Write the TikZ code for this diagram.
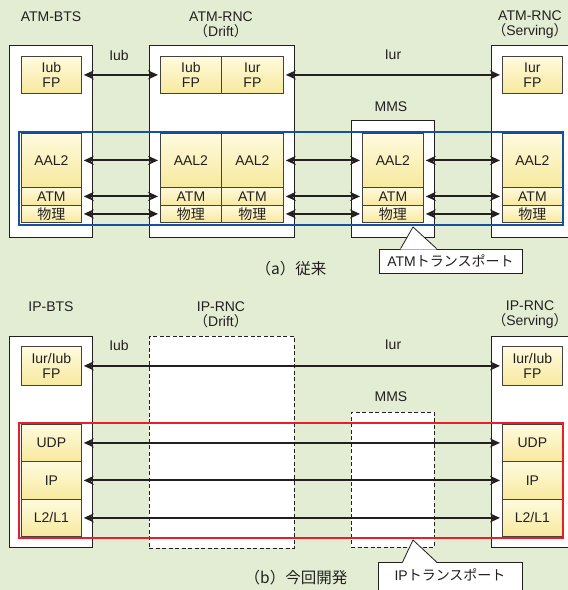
\documentclass[tikz,border=0pt]{standalone}
\usepackage{fontspec}
\setmainfont{Liberation Sans}
\newfontfamily\jp{Noto Sans CJK JP}
\usetikzlibrary{arrows.meta}
\definecolor{bgreen}{RGB}{227,237,212}
\definecolor{pyelA}{RGB}{255,251,222}
\definecolor{pyelB}{RGB}{247,233,158}
\definecolor{tblue}{RGB}{20,82,160}
\definecolor{tred}{RGB}{232,30,40}
\definecolor{ink}{RGB}{35,31,32}
\begin{document}
\begin{tikzpicture}[x=1pt,y=-1pt,
  font=\fontsize{14}{15}\selectfont, text=ink,
  container/.style={draw=ink, line width=0.8pt, fill=white, anchor=north west, inner sep=0pt},
  dcontainer/.style={container, dash pattern=on 4pt off 2.5pt},
  proto/.style={draw=ink!85, line width=0.8pt, anchor=north west, inner sep=0pt,
    top color=pyelA, bottom color=pyelB, align=center},
  link/.style={line width=2.1pt, draw=ink, {Stealth[length=10pt,width=9pt]}-{Stealth[length=10pt,width=9pt]},
    shorten <=2pt, shorten >=2pt},
  frameblue/.style={draw=tblue, line width=2.6pt},
  framered/.style={draw=tred, line width=2.6pt},
  title/.style={align=center, inner sep=0pt},
  caption/.style={inner sep=0pt, font=\fontsize{15.5}{16}\selectfont\jp},
  callbox/.style={draw=ink, line width=0.8pt, fill=white, inner sep=0pt},
  callline/.style={draw=ink, line width=0.8pt}]
\clip (0,0) rectangle (568,590);
\fill[bgreen] (0,0) rectangle (568,590);

%% ===== (a) =====
\node[title] (ta1) at (51,17) {ATM-BTS};
\node[title] (ta2) at (221,24.5) {ATM-RNC\\{\jp （}Drift{\jp ）}};
\node[title] (ta3) at (530,24.5) {ATM-RNC\\{\jp （}Serving{\jp ）}};
\node[title] (la1) at (119,55) {Iub};
\node[title] (la2) at (393,55) {Iur};
\node[title] (la3) at (391,107) {MMS};

\node[container, minimum width=83pt, minimum height=192pt] (abts) at (9,45) {};
\node[container, minimum width=145pt, minimum height=192pt] (arncd) at (149,45) {};
\node[container, minimum width=83pt, minimum height=117pt] (amms) at (351,120) {};
\node[container, minimum width=90pt, minimum height=192pt] (arncs) at (491,45) {};

% BTS
\node[proto, minimum width=60pt, minimum height=37pt] (abtsfp) at (21,56) {Iub\\FP};
\node[proto, minimum width=60pt, minimum height=54pt] (abtsaal) at (21,133) {AAL2};
\node[proto, minimum width=60pt, minimum height=18pt] (abtsatm) at (21,187) {ATM};
\node[proto, minimum width=60pt, minimum height=17pt] (abtsphy) at (21,205) {\jp 物理};
% RNC drift
\node[proto, minimum width=61pt, minimum height=37pt] (arncdfpa) at (160,56) {Iub\\FP};
\node[proto, minimum width=62pt, minimum height=37pt] (arncdfpb) at (221,56) {Iur\\FP};
\node[proto, minimum width=61pt, minimum height=54pt] (arncdaala) at (160,133) {AAL2};
\node[proto, minimum width=62pt, minimum height=54pt] (arncdaalb) at (221,133) {AAL2};
\node[proto, minimum width=61pt, minimum height=18pt] (arncdatma) at (160,187) {ATM};
\node[proto, minimum width=62pt, minimum height=18pt] (arncdatmb) at (221,187) {ATM};
\node[proto, minimum width=61pt, minimum height=17pt] (arncdphya) at (160,205) {\jp 物理};
\node[proto, minimum width=62pt, minimum height=17pt] (arncdphyb) at (221,205) {\jp 物理};
% MMS
\node[proto, minimum width=61pt, minimum height=54pt] (ammsaal) at (362,133) {AAL2};
\node[proto, minimum width=61pt, minimum height=18pt] (ammsatm) at (362,187) {ATM};
\node[proto, minimum width=61pt, minimum height=17pt] (ammsphy) at (362,205) {\jp 物理};
% RNC serving
\node[proto, minimum width=60pt, minimum height=37pt] (arncsfp) at (502,56) {Iur\\FP};
\node[proto, minimum width=60pt, minimum height=54pt] (arncsaal) at (502,133) {AAL2};
\node[proto, minimum width=60pt, minimum height=18pt] (arncsatm) at (502,187) {ATM};
\node[proto, minimum width=60pt, minimum height=17pt] (arncsphy) at (502,205) {\jp 物理};

\draw[link] (abtsfp) -- (arncdfpa);
\draw[link] (arncdfpb) -- (arncsfp);
\draw[link] (abtsaal) -- (arncdaala);
\draw[link] (abtsatm) -- (arncdatma);
\draw[link] (abtsphy) -- (arncdphya);
\draw[link] (arncdaalb) -- (ammsaal);
\draw[link] (arncdatmb) -- (ammsatm);
\draw[link] (arncdphyb) -- (ammsphy);
\draw[link] (ammsaal) -- (arncsaal);
\draw[link] (ammsatm) -- (arncsatm);
\draw[link] (ammsphy) -- (arncsphy);

\draw[frameblue] (19,132) rectangle (563,225);

\coordinate (atip) at (413,227);
\node[callbox, minimum width=143pt, minimum height=24pt] (acall) at (450.5,261) {ATM{\jp トランスポート}};
\fill[white] ([xshift=22pt,yshift=-1pt]acall.north west) -- (atip) -- ([xshift=58pt,yshift=-1pt]acall.north west) -- cycle;
\draw[callline] ([xshift=22pt]acall.north west) -- (atip) -- ([xshift=58pt]acall.north west);

\node[caption] (capa) at (291,269) {（a）従来};

%% ===== (b) =====
\node[title] (tb1) at (51,307) {IP-BTS};
\node[title] (tb2) at (221,314.5) {IP-RNC\\{\jp （}Drift{\jp ）}};
\node[title] (tb3) at (530,314.5) {IP-RNC\\{\jp （}Serving{\jp ）}};
\node[title] (lb1) at (119,345) {Iub};
\node[title] (lb2) at (393,345) {Iur};
\node[title] (lb3) at (391,397) {MMS};

\node[container, minimum width=83pt, minimum height=211pt] (bbts) at (9,336) {};
\node[dcontainer, minimum width=145pt, minimum height=212pt] (brncd) at (149,336) {};
\node[dcontainer, minimum width=83pt, minimum height=135pt] (bmms) at (351,412) {};
\node[container, minimum width=90pt, minimum height=211pt] (brncs) at (491,336) {};

\node[proto, minimum width=60pt, minimum height=39pt] (bbtsfp) at (21,346) {Iur/Iub\\FP};
\node[proto, minimum width=60pt, minimum height=37pt] (bbtsudp) at (21,424) {UDP};
\node[proto, minimum width=60pt, minimum height=38pt] (bbtsip) at (21,461) {IP};
\node[proto, minimum width=60pt, minimum height=37pt] (bbtsl) at (21,499) {L2/L1};
\node[proto, minimum width=60pt, minimum height=39pt] (brncsfp) at (502,346) {Iur/Iub\\FP};
\node[proto, minimum width=60pt, minimum height=37pt] (brncsudp) at (502,424) {UDP};
\node[proto, minimum width=60pt, minimum height=38pt] (brncsip) at (502,461) {IP};
\node[proto, minimum width=60pt, minimum height=37pt] (brncsl) at (502,499) {L2/L1};

\draw[link] (bbtsfp) -- (brncsfp);
\draw[link] (bbtsudp) -- (brncsudp);
\draw[link] (bbtsip) -- (brncsip);
\draw[link] (bbtsl) -- (brncsl);

\draw[framered] (19,423) rectangle (563,538);

\coordinate (btip) at (413,540);
\node[callbox, anchor=north, minimum width=144pt, text height=10pt, text depth=16pt, inner ysep=8pt] (bcall) at (450,562) {IP{\jp トランスポート}};
\fill[white] ([xshift=25pt,yshift=-1pt]bcall.north west) -- (btip) -- ([xshift=59pt,yshift=-1pt]bcall.north west) -- cycle;
\draw[callline] ([xshift=25pt]bcall.north west) -- (btip) -- ([xshift=59pt]bcall.north west);

\node[caption] (capb) at (296,578) {（b）今回開発};
\end{tikzpicture}
\end{document}
